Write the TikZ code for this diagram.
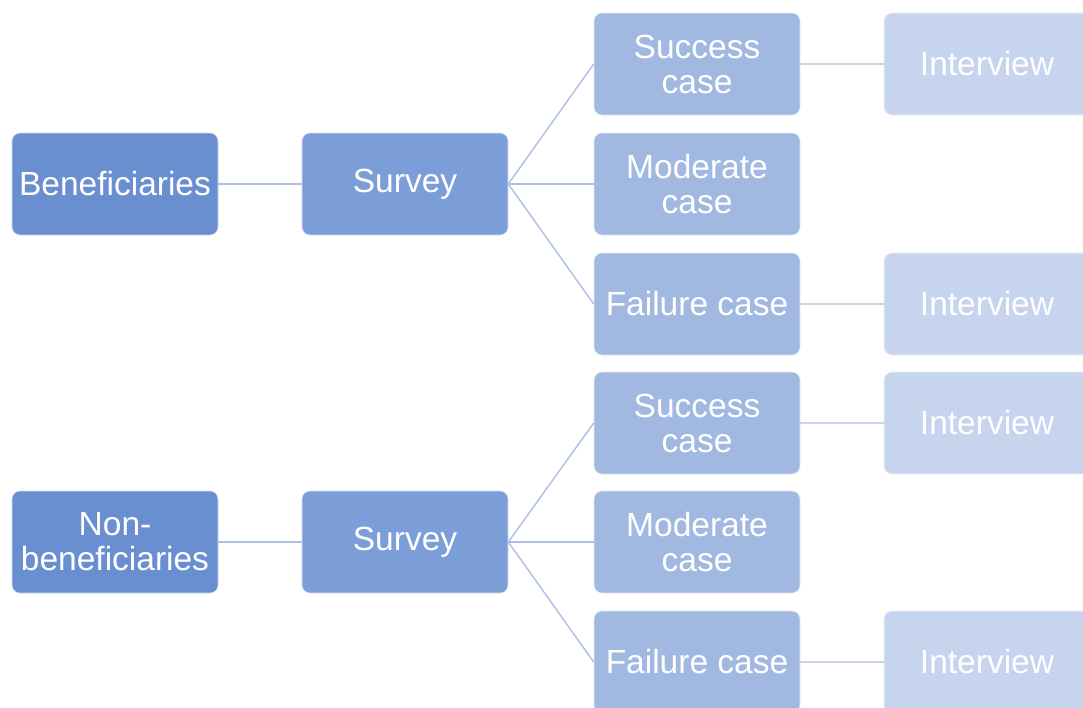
\documentclass[tikz,border=0pt]{standalone}
\usepackage{fontspec}
\setmainfont{Liberation Sans}
\usepackage{tikz}

\definecolor{rootblue}{HTML}{698FD0}
\definecolor{surveyblue}{HTML}{7C9ED8}
\definecolor{caseblue}{HTML}{A1B8E1}
\definecolor{interviewblue}{HTML}{C6D4ED}
\definecolor{linkblue}{HTML}{AEBFE3}
\definecolor{linklight}{HTML}{C9D4EE}

\begin{document}
\begin{tikzpicture}[x=1pt,y=-1pt,
  box/.style={rounded corners=8pt, draw=white!70!#1, line width=0.6pt, fill=#1,
    minimum width=206pt, minimum height=102pt, inner sep=0pt, align=center,
    text=white, font=\fontsize{33.5}{35}\selectfont},
  link/.style={draw=linkblue, line width=1.4pt},
  linklt/.style={draw=linklight, line width=1.4pt}]
  \useasboundingbox (0,0) rectangle (1083,707);
  \clip (0,0) rectangle (1083,707);
  \fill[white] (0,0) rectangle (1083,707);

  % beneficiaries branch
  \node[box=rootblue] (ben) at (115,184) {Beneficiaries};
  \node[box=surveyblue] (sva) at (405,184) {Survey};
  \node[box=caseblue] (suca) at (697,64) {Success\\case};
  \node[box=caseblue] (moda) at (697,184) {Moderate\\case};
  \node[box=caseblue] (faia) at (697,304) {Failure case};
  \node[box=interviewblue] (inta) at (987,64) {Interview};
  \node[box=interviewblue] (intb) at (987,304) {Interview};

  % non-beneficiaries branch
  \node[box=rootblue] (nonben) at (115,542) {Non-\\beneficiaries};
  \node[box=surveyblue] (svb) at (405,542) {Survey};
  \node[box=caseblue] (sucb) at (697,423) {Success\\case};
  \node[box=caseblue] (modb) at (697,542) {Moderate\\case};
  \node[box=caseblue] (faib) at (697,662) {Failure case};
  \node[box=interviewblue] (intc) at (987,423) {Interview};
  \node[box=interviewblue] (intd) at (987,662) {Interview};

  \draw[link] (ben.east) -- (sva.west);
  \draw[link] (sva.east) -- (suca.west);
  \draw[link] (sva.east) -- (moda.west);
  \draw[link] (sva.east) -- (faia.west);
  \draw[linklt] (suca.east) -- (inta.west);
  \draw[linklt] (faia.east) -- (intb.west);

  \draw[link] (nonben.east) -- (svb.west);
  \draw[link] (svb.east) -- (sucb.west);
  \draw[link] (svb.east) -- (modb.west);
  \draw[link] (svb.east) -- (faib.west);
  \draw[linklt] (sucb.east) -- (intc.west);
  \draw[linklt] (faib.east) -- (intd.west);
\end{tikzpicture}
\end{document}
